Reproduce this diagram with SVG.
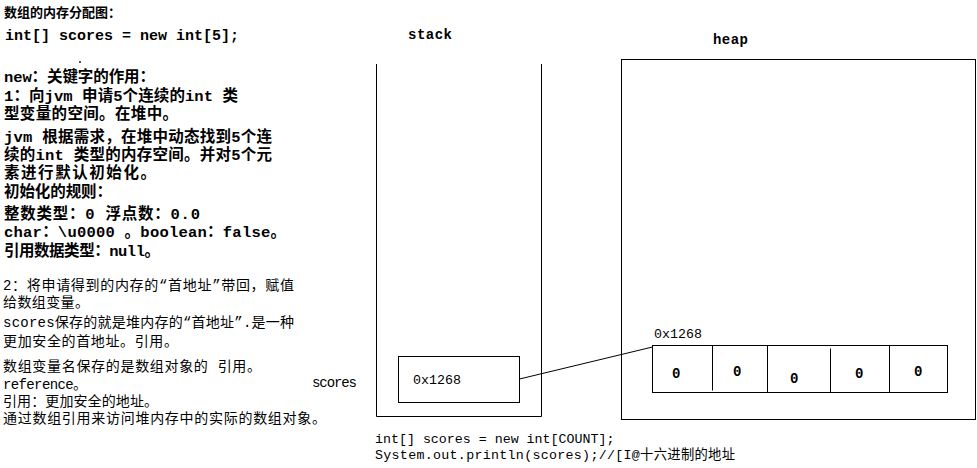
<svg xmlns="http://www.w3.org/2000/svg" width="977" height="468" viewBox="0 0 977 468">
<style>
.b{font-family:"Liberation Mono","Noto Sans CJK SC",monospace;font-weight:bold;font-size:15.5px;fill:#000}
.n{font-family:"Liberation Mono","Noto Sans CJK SC",monospace;font-size:14px;fill:#000}
.t{font-family:"Noto Sans CJK SC",sans-serif;font-weight:bold;font-size:13px;fill:#000}
.c{font-family:"Liberation Mono","Noto Sans CJK SC",monospace;font-size:13.3px;fill:#000}
.z{font-family:"Liberation Mono",monospace;font-weight:bold;font-size:14px;fill:#000}
.box{fill:none;stroke:#000;stroke-width:1}
</style>
<rect width="977" height="468" fill="#fff"/>
<g id="notes-bold">
<text class="t" x="4" y="17" textLength="117">数组的内存分配图：</text>
<text class="b" x="5" y="40" style="font-size:15px">int[] scores = new int[5];</text>
<circle cx="80" cy="62" r="0.9" fill="#000"/>
<text class="b" x="4" y="82" textLength="151">new：关键字的作用：</text>
<text class="b" x="4" y="101" textLength="234">1：向jvm 申请5个连续的int 类</text>
<text class="b" x="4" y="119" textLength="174">型变量的空间。在堆中。</text>
<text class="b" x="4" y="142" textLength="268">jvm 根据需求，在堆中动态找到5个连</text>
<text class="b" x="4" y="160" textLength="268">续的int 类型的内存空间。并对5个元</text>
<text class="b" x="4" y="178" textLength="152">素进行默认初始化。</text>
<text class="b" x="4" y="197" textLength="108">初始化的规则：</text>
<text class="b" x="4" y="219" textLength="196">整数类型：0   浮点数：0.0</text>
<text class="b" x="4" y="237" textLength="282">char：\u0000 。boolean：false。</text>
<text class="b" x="4" y="256" textLength="156">引用数据类型：null。</text>
</g>
<g id="notes-normal">
<text class="n" x="3" y="290" textLength="291">2：将申请得到的内存的“首地址”带回，赋值</text>
<text class="n" x="3" y="307" textLength="86">给数组变量。</text>
<text class="n" x="3" y="327" textLength="291">scores保存的就是堆内存的“首地址”.是一种</text>
<text class="n" x="3" y="346" textLength="175">更加安全的首地址。引用。</text>
<text class="n" x="3" y="371" textLength="258">数组变量名保存的是数组对象的 引用。</text>
<text class="n" x="3" y="389" textLength="84">reference。</text>
<text class="n" x="312" y="387" textLength="45">scores</text>
<text class="n" x="3" y="406" textLength="155">引用：更加安全的地址。</text>
<text class="n" x="3" y="423" textLength="323">通过数组引用来访问堆内存中的实际的数组对象。</text>
</g>
<g id="stack">
<text class="z" x="408" y="39" textLength="44">stack</text>
<path class="box" d="M376.5,64 V416.5 H541.5 V64"/>
</g>
<g id="scores-var">
<rect class="box" x="398.5" y="356.5" width="121" height="46"/>
<text class="c" x="413" y="384">0x1268</text>
</g>
<g id="heap">
<text class="z" x="713" y="44" textLength="35">heap</text>
<rect class="box" x="621.5" y="59.5" width="354" height="360"/>
</g>
<g id="array">
<text class="c" x="654" y="338">0x1268</text>
<rect class="box" x="652.5" y="345.5" width="295" height="47"/>
<line class="box" x1="712.5" y1="345.5" x2="712.5" y2="390.5"/>
<line class="box" x1="767.5" y1="345.5" x2="767.5" y2="392.5"/>
<line class="box" x1="830.5" y1="348.5" x2="830.5" y2="392.5"/>
<line class="box" x1="889.5" y1="345.5" x2="889.5" y2="392.5"/>
<text class="z" x="672" y="378">0</text>
<text class="z" x="733" y="376">0</text>
<text class="z" x="790" y="383">0</text>
<text class="z" x="855" y="378">0</text>
<text class="z" x="914" y="376">0</text>
</g>
<g id="connectors">
<line class="box" x1="519.5" y1="379" x2="652.5" y2="347"/>
</g>
<g id="code">
<text class="c" x="375" y="443">int[] scores = new int[COUNT];</text>
<text class="c" x="375" y="459" textLength="360">System.out.println(scores);//[I@十六进制的地址</text>
</g>
</svg>
